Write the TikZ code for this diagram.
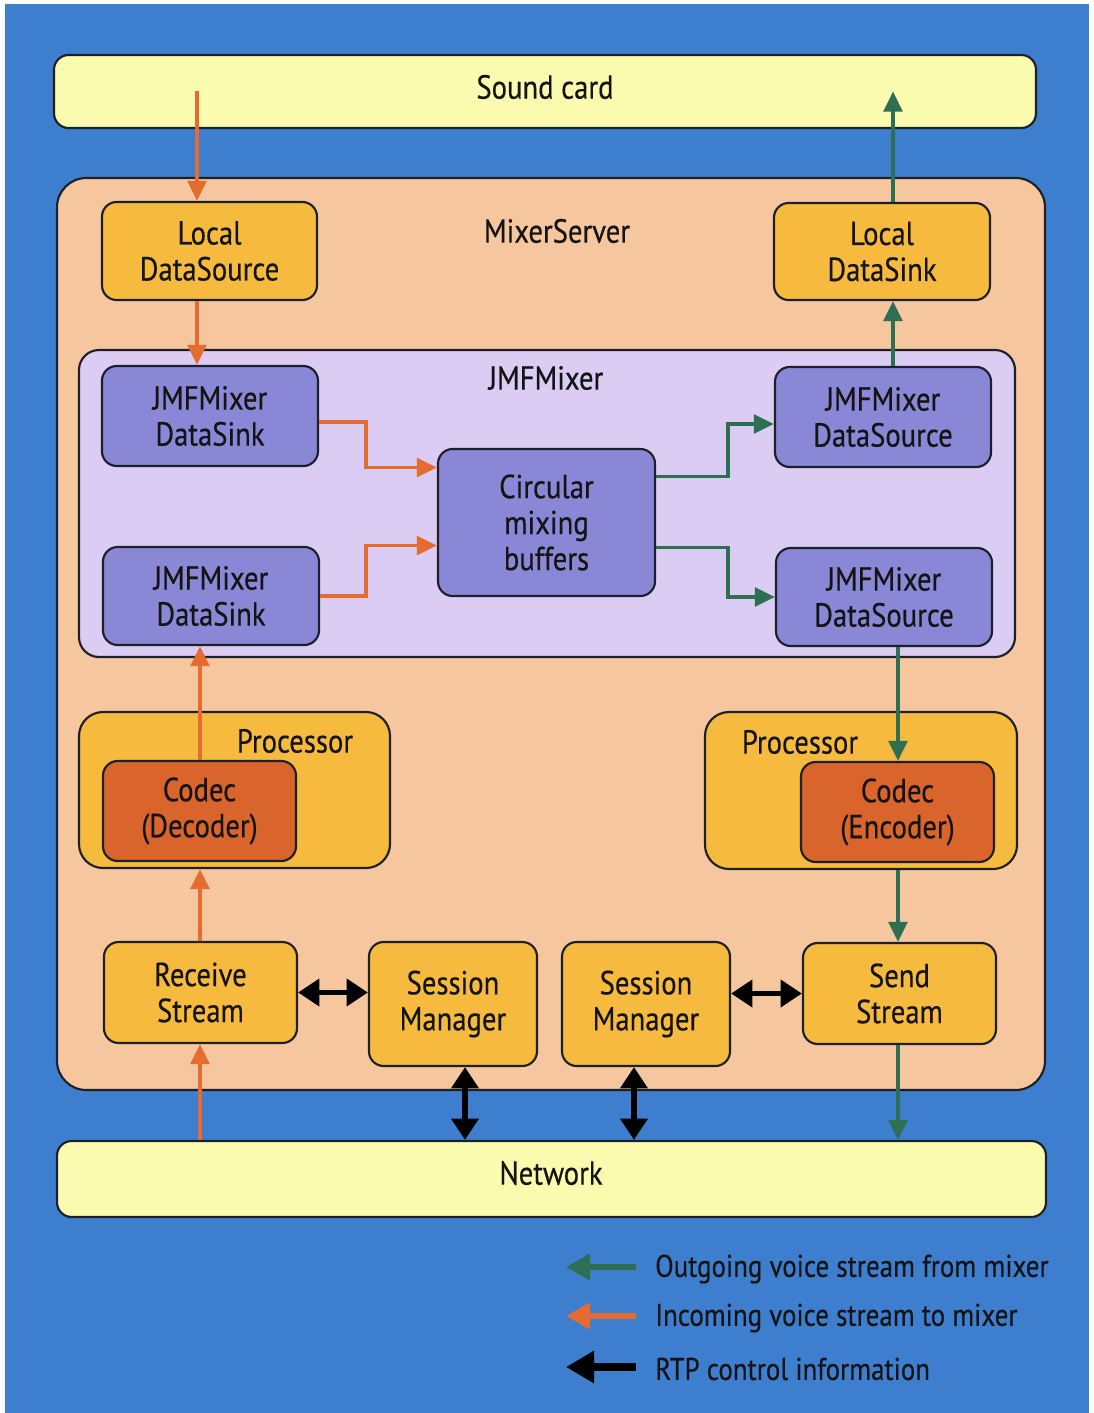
\documentclass[tikz,border=0pt]{standalone}
\usepackage{fontspec}
\setmainfont{PT Sans}[FakeStretch=0.86, FakeBold=0.4]
\usetikzlibrary{arrows.meta,calc}

\definecolor{bgblue}{RGB}{62,126,206}
\definecolor{cardyellow}{RGB}{251,251,176}
\definecolor{peach}{RGB}{246,198,158}
\definecolor{gold}{RGB}{246,187,62}
\definecolor{lavender}{RGB}{218,204,242}
\definecolor{slate}{RGB}{138,136,214}
\definecolor{codecred}{RGB}{217,100,44}
\definecolor{incoming}{RGB}{228,108,48}
\definecolor{outgoing}{RGB}{46,110,82}
\definecolor{edge}{RGB}{28,32,40}
\definecolor{ink}{RGB}{20,20,20}

\tikzset{
  sz/.style 2 args={minimum width=#1*0.75pt, minimum height=#2*0.75pt},
  base/.style={draw=edge, line width=1.6pt, rounded corners=11pt, inner sep=0pt,
    align=center, text=ink, font=\fontsize{25}{27}\selectfont},
  cardbox/.style={base, fill=cardyellow},
  serverbox/.style={base, fill=peach, rounded corners=22pt},
  mixerbox/.style={base, fill=lavender, rounded corners=15pt},
  goldbox/.style={base, fill=gold},
  procbox/.style={base, fill=gold, rounded corners=18pt},
  slatebox/.style={base, fill=slate},
  codecbox/.style={base, fill=codecred},
  lbl/.style={text=ink, font=\fontsize{25}{27}\selectfont, inner sep=0pt},
  keytext/.style={text=ink, font=\fontsize{23.5}{27}\selectfont, inner sep=0pt, anchor=west},
  inflow/.style={draw=incoming, line width=2.6pt,
    -{Triangle[length=15pt,width=14pt]}},
  outflow/.style={draw=outgoing, line width=2.6pt,
    -{Triangle[length=15pt,width=14pt]}},
  rtp/.style={draw=black, line width=3.8pt,
    {Triangle[length=16pt,width=20pt]}-{Triangle[length=16pt,width=20pt]}},
}

\begin{document}
\begin{tikzpicture}[x=0.75pt,y=-0.75pt]
\useasboundingbox (0,0) rectangle (1094,1413);
\fill[white] (0,0) rectangle (1094,1413);
\fill[bgblue] (5,4) rectangle (1089,1413);

% outer hardware and containers
\node[cardbox, sz={982}{73}] (snd) at (545,91.5) {};
\node[lbl] (sndlbl) at (545,87) {Sound card};
\node[serverbox, sz={988}{912}] (srv) at (551,634) {};
\node[lbl] (srvlbl) at (557,231) {MixerServer};
\node[cardbox, sz={989}{76}] (net) at (551.5,1179) {};
\node[lbl] (netlbl) at (551,1173) {Network};

% local endpoints
\node[goldbox, sz={215}{98}] (lds) at (209.5,251) {Local\\DataSource};
\node[goldbox, sz={216}{97}] (ldk) at (882,251.5) {Local\\DataSink};

% mixer
\node[mixerbox, sz={936}{307}] (jmf) at (547,503.5) {};
\node[lbl] (jmflbl) at (546,378) {JMFMixer};
\node[slatebox, sz={216}{100}] (dk1) at (210,416) {JMFMixer\\DataSink};
\node[slatebox, sz={216}{98}] (dk2) at (211,596) {JMFMixer\\DataSink};
\node[slatebox, sz={217}{147}] (cmb) at (546.5,522.5) {Circular\\mixing\\buffers};
\node[slatebox, sz={216}{100}] (ds1) at (883,417) {JMFMixer\\DataSource};
\node[slatebox, sz={216}{98}] (ds2) at (884,597) {JMFMixer\\DataSource};

% processors with their codecs
\node[procbox, sz={311}{156}] (prl) at (234.5,790) {};
\node[lbl] (prllbl) at (295,741) {Processor};
\node[procbox, sz={312}{157}] (prr) at (861,790.5) {};
\node[lbl] (prrlbl) at (800,742) {Processor};
\node[codecbox, sz={193}{100}] (cdl) at (199.5,811) {Codec\\(Decoder)};
\node[codecbox, sz={193}{100}] (cdr) at (897.5,812) {Codec\\(Encoder)};

% streams and session managers
\node[goldbox, sz={193}{101}] (rcv) at (200.5,992.5) {Receive\\Stream};
\node[goldbox, sz={168}{124}] (sm1) at (453,1004) {Session\\Manager};
\node[goldbox, sz={168}{124}] (sm2) at (646,1004) {Session\\Manager};
\node[goldbox, sz={193}{101}] (sst) at (899.5,993.5) {Send\\Stream};

% connector columns
\coordinate (xin) at (197,0);
\coordinate (xrx) at (200,0);
\coordinate (xout) at (893,0);
\coordinate (xtx) at (898,0);
\coordinate (xc1) at (465,0);
\coordinate (xc2) at (634,0);
\coordinate (ci1) at ($(cmb.west)+(0,-55)$);
\coordinate (ci2) at ($(cmb.west)+(0,23)$);
\coordinate (co1) at ($(cmb.east)+(0,-46)$);
\coordinate (co2) at ($(cmb.east)+(0,25)$);

% incoming voice path (from sound card)
\draw[inflow] (xin |- snd.center) -- (xin |- lds.north);
\draw[inflow] (xin |- lds.south) -- (xin |- dk1.north);
\draw[inflow] ($(dk1.east)+(0,6)$) -- ++(47,0) |- (ci1);
\draw[inflow] (dk2.east) -- ++(46,0) |- (ci2);

% incoming voice path (from network)
\draw[inflow] (xrx |- net.north) -- (xrx |- rcv.south);
\draw[inflow] (xrx |- rcv.north) -- (xrx |- prl.south);
\draw[inflow] (xrx |- cdl.north) -- (xrx |- dk2.south);

% outgoing voice path
\draw[outflow] (co1) -- ++(72,0) |- ($(ds1.west)+(0,7)$);
\draw[outflow] (co2) -- ++(72,0) |- (ds2.west);
\draw[outflow] (xout |- ds1.north) -- (xout |- ldk.south);
\draw[outflow] (xout |- ldk.north) -- (xout |- snd.center);
\draw[outflow] (xtx |- ds2.south) -- (xtx |- cdr.north);
\draw[outflow] (xtx |- prr.south) -- (xtx |- sst.north);
\draw[outflow] (xtx |- sst.south) -- (xtx |- net.north);

% RTP control
\draw[rtp] (rcv.east) -- (rcv.east -| sm1.west);
\draw[rtp] (sm2.east |- sst.west) -- (sst.west);
\draw[rtp] (xc1 |- sm1.south) -- (xc1 |- net.north);
\draw[rtp] (xc2 |- sm2.south) -- (xc2 |- net.north);

% legend
\coordinate (lg1) at (636,1267);
\coordinate (lg2) at (636,1316);
\coordinate (lg3) at (636,1367);
\draw[draw=outgoing, line width=4.5pt, -{Triangle[length=18pt,width=19pt]}] (lg1) -- ++(-70,0);
\draw[draw=incoming, line width=4.5pt, -{Triangle[length=18pt,width=19pt]}] (lg2) -- ++(-70,0);
\draw[draw=black, line width=6pt, -{Triangle[length=21pt,width=23pt]}] (lg3) -- ++(-70,0);
\node[keytext] (lt1) at (655,1269) {Outgoing voice stream from mixer};
\node[keytext] (lt2) at (655,1318) {Incoming voice stream to mixer};
\node[keytext] (lt3) at (655,1369) {RTP control information};
\end{tikzpicture}
\end{document}
